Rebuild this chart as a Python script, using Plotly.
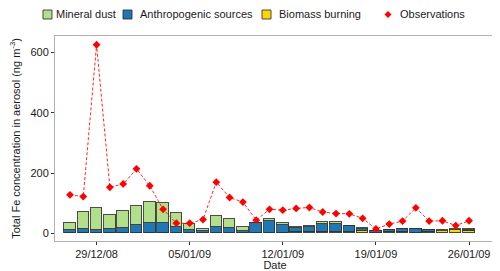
import plotly.graph_objects as go
import pandas as pd

dates = pd.date_range("2008-12-27", "2009-01-26", freq="D")
mineral_dust = [22, 56, 71, 47, 56, 64, 68, 67, 47, 18, 7, 35, 31, 14, 2, 5, 5, 3, 4, 5, 5, 2, 3, 2, 2, 2, 2, 2, 2, 2, 2]
anthropogenic = [11, 13, 11, 13, 18, 27, 34, 34, 21, 11, 8, 21, 16, 8, 32, 39, 25, 14, 16, 28, 26, 20, 8, 5, 5, 10, 11, 4, 2, 1, 3]
biomass = [1, 1, 1, 1, 1, 1, 1, 1, 1, 1, 1, 1, 1, 1, 2, 3, 3, 5, 6, 4, 6, 4, 8, 2, 5, 4, 3, 6, 7, 12, 9]
observations = [128, 122, 625, 153, 164, 214, 158, 80, 34, 34, 46, 170, 119, 104, 44, 80, 77, 83, 86, 71, 66, 65, 50, 15, 31, 41, 85, 41, 42, 26, 42]
tick_dates = ["2008-12-29", "2009-01-05", "2009-01-12", "2009-01-19", "2009-01-26"]
tick_labels = ["29/12/08", "05/01/09", "12/01/09", "19/01/09", "26/01/09"]

series_names = ["Mineral dust", "Anthropogenic sources", "Biomass burning", "Observations"]
series_colors = ["#B2DF8A", "#1F78B4", "#FFD700", "#FF0000"]

# page body has an 8px margin, so the figure is drawn offset by (8, 8)
OFF = 8
W, H = 500 - OFF, 271 - OFF
ML, MR, MT, MB = 55 - OFF, 5, 36 - OFF, 30
PW, PH = W - ML - MR, H - MT - MB


def px_x(p):
    return (p - OFF - ML) / PW


def px_y(p):
    return (H - MB - (p - OFF)) / PH


day_ms = 86400000
outline = dict(color="rgba(45,45,45,0.85)", width=1)

fig = go.Figure()
fig.add_trace(go.Bar(x=dates, y=biomass, name=series_names[2],
                     marker=dict(color=series_colors[2], line=outline),
                     width=0.86 * day_ms, showlegend=False))
fig.add_trace(go.Bar(x=dates, y=anthropogenic, name=series_names[1],
                     marker=dict(color=series_colors[1], line=outline),
                     width=0.86 * day_ms, showlegend=False))
fig.add_trace(go.Bar(x=dates, y=mineral_dust, name=series_names[0],
                     marker=dict(color=series_colors[0], line=outline),
                     width=0.86 * day_ms, showlegend=False))
fig.add_trace(go.Scatter(x=dates, y=observations, name=series_names[3], mode="lines+markers",
                         line=dict(color="rgba(255,0,0,0.85)", width=1, dash="3px,2px"),
                         marker=dict(symbol="diamond", size=6, color="#FF0000"),
                         showlegend=False))

# manual legend (top row), positioned in screen pixels; kept inside the figure's top edge
LEG_CY = 14.5
shapes = []
annotations = []
key_x = [43, 123, 262]
text_x = [55, 139, 278]
for kx, tx, name, col in zip(key_x, text_x, series_names[:3], series_colors[:3]):
    shapes.append(dict(type="rect", xref="paper", yref="paper",
                       x0=px_x(kx), x1=px_x(kx + 9), y0=px_y(LEG_CY + 4.5), y1=px_y(LEG_CY - 4.5),
                       fillcolor=col, line=dict(color="rgba(45,45,45,0.85)", width=1)))
    annotations.append(dict(text=name, xref="paper", yref="paper", x=px_x(tx), y=px_y(LEG_CY),
                            xanchor="left", yanchor="middle", showarrow=False, borderpad=0,
                            font=dict(size=11, color="#1a1a1a")))
cx, r = 388, 3.5
shapes.append(dict(type="path", xref="paper", yref="paper",
                   path=f"M {px_x(cx - r)} {px_y(LEG_CY)} L {px_x(cx)} {px_y(LEG_CY - r)} L {px_x(cx + r)} {px_y(LEG_CY)} L {px_x(cx)} {px_y(LEG_CY + r)} Z",
                   fillcolor="#FF0000", line=dict(color="#FF0000", width=0)))
annotations.append(dict(text=series_names[3], xref="paper", yref="paper", x=px_x(399), y=px_y(LEG_CY),
                        xanchor="left", yanchor="middle", showarrow=False, borderpad=0,
                        font=dict(size=11, color="#1a1a1a")))

fig.update_layout(
    width=W, height=H,
    barmode="stack",
    bargap=0,
    showlegend=False,
    paper_bgcolor="white", plot_bgcolor="white",
    margin=dict(l=ML, r=MR, t=MT, b=MB, autoexpand=False),
    font=dict(family="Liberation Sans, Arial, sans-serif", size=11, color="#1a1a1a"),
    shapes=shapes,
    annotations=annotations,
    xaxis=dict(type="date", range=["2008-12-25 21:00", "2009-01-27 22:48"],
               tickvals=tick_dates, ticktext=tick_labels, ticks="outside", ticklen=3,
               tickcolor="#333333", showgrid=False, zeroline=False,
               showline=True, linecolor="#B0B0B0", mirror=True,
               tickfont=dict(size=11, color="#1a1a1a"),
               title=dict(text="Date", font=dict(size=11), standoff=0)),
    yaxis=dict(range=[-25, 654], tickvals=[0, 200, 400, 600], ticks="outside", ticklen=3,
               tickcolor="#333333", showgrid=False, zeroline=False,
               showline=True, linecolor="#B0B0B0", mirror=True,
               tickfont=dict(size=11, color="#1a1a1a"),
               title=dict(text="Total Fe concentration in aerosol (ng m<sup>-3</sup>)", font=dict(size=11), standoff=9)),
)

fig.write_html("out.html")
